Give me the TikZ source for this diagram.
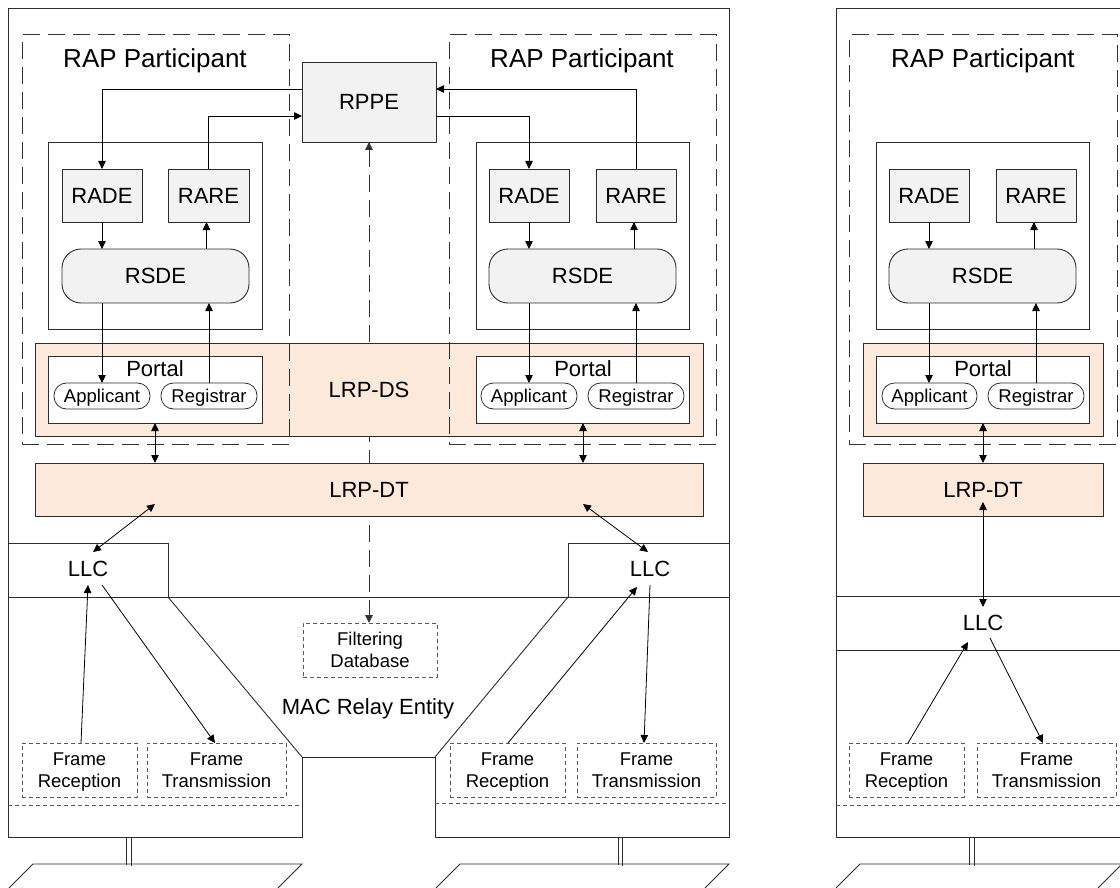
\documentclass[tikz,border=0pt]{standalone}
\usepackage{fontspec}
\setmainfont{Liberation Sans}
\usetikzlibrary{arrows.meta}
\definecolor{peach}{RGB}{252,233,219}
\definecolor{lgray}{RGB}{242,242,242}
\definecolor{ln}{RGB}{45,45,45}
\pgfdeclarelayer{bgfill}
\pgfdeclarelayer{back}
\pgfsetlayers{bgfill,back,main}
\begin{document}
\begin{tikzpicture}[x=1pt,y=-1pt,
  every node/.style={inner sep=0pt, outer sep=0pt},
  sz/.style 2 args={minimum width=#1pt, minimum height=#2pt},
  outl/.style={draw=ln, line width=0.9pt},
  gb/.style={draw=ln, fill=lgray, line width=0.9pt},
  pb/.style={draw=ln, fill=peach, line width=0.9pt},
  wb/.style={draw=ln, fill=white, line width=0.9pt},
  pill/.style={draw=ln, fill=white, line width=0.8pt, rounded corners=12.5pt},
  rsde/.style={draw=ln, fill=lgray, line width=0.9pt, rounded corners=19pt},
  fb/.style={draw=black!65, line width=0.8pt, dash pattern=on 4pt off 3pt, fill=white},
  fdash/.style={draw=black!65, line width=0.8pt, dash pattern=on 4pt off 3pt},
  rap/.style={draw=black!80, line width=1pt, dash pattern=on 17pt off 8pt},
  big/.style={font=\fontsize{26}{30}\selectfont, text height=18.6pt, text depth=0pt},
  mid/.style={font=\fontsize{22}{26}\selectfont, text height=15.8pt, text depth=0pt},
  smone/.style={font=\fontsize{18.5}{22}\selectfont, text height=13.3pt, text depth=0pt},
  smtwo/.style={font=\fontsize{18.5}{22}\selectfont, align=center, text height=35.3pt, text depth=0pt},
  arr/.style={draw=black, line width=0.8pt, -{Triangle[length=8pt,width=7.5pt]}},
  darr/.style={draw=black, line width=0.8pt, {Triangle[length=8pt,width=7.5pt]}-{Triangle[length=8pt,width=7.5pt]}}
]
\useasboundingbox (0,0) rectangle (1120,888);
\begin{pgfonlayer}{bgfill}
\fill[white] (0,0) rectangle (1120,888);
\end{pgfonlayer}

% ---------- bridge outline ----------
\draw[outl] (8,8) -- (729,8) -- (729,837) -- (435,837) -- (435,757) -- (302,757) -- (302,837) -- (8,837) -- cycle;
\draw[outl] (8,543) -- (168,543) -- (168,597);
\draw[outl] (729,543) -- (568,543) -- (568,597);
\draw[outl] (8,597) -- (729,597);
\draw[outl] (168,597) -- (302,757);
\draw[outl] (568,597) -- (435,757);
\draw[fdash] (8,805) -- (302,805);
\draw[fdash] (435,803) -- (729,803);
\draw[outl] (126,837) -- (126,865) (131,837) -- (131,866);
\draw[outl] (9,888) -- (33,864) -- (302,864) -- (278,888);
\draw[outl] (618,837) -- (618,865) (622,837) -- (622,866);
\draw[outl] (436,888) -- (460,864) -- (729,864) -- (705,888);

% ---------- end station outline ----------
\draw[outl] (1130,8) -- (836,8) -- (836,837) -- (1130,837);
\draw[outl] (836,596) -- (1130,596) (836,650) -- (1130,650);
\draw[fdash] (836,805) -- (1130,805);
\draw[outl] (969,837) -- (969,865) (974,837) -- (974,866);
\draw[outl] (836,888) -- (860,864) -- (1122,864) -- (1098,888);

% ---------- RPPE, filtering database ----------
\node[gb, sz={134}{80}, mid] (rppe) at (369,102) {RPPE};
\node[fb, sz={134}{54}, smtwo] (fd) at (370,650) {Filtering\\Database};
\begin{pgfonlayer}{back}
\draw[rap, {Triangle[length=8pt,width=7.5pt]}-{Triangle[length=8pt,width=7.5pt]}] (rppe.south) -- (rppe.south |- fd.north);
\end{pgfonlayer}
\node[mid] (mac) at (368,707) {MAC Relay Entity};

% ---------- LRP boxes ----------
\node[pb, sz={668}{93}, mid] (lrpds) at (369,389.5) {LRP-DS};
\node[pb, sz={668}{53}, mid] (lrpdt) at (369,489.5) {LRP-DT};
\node[pb, sz={240}{93}] (lrpds3) at (983,389.5) {};
\node[pb, sz={240}{53}, mid] (lrpdt3) at (983,489.5) {LRP-DT};

% ---------- RAP participant boxes ----------
\node[rap, sz={267}{409}] (rap1) at (155.5,239.5) {};
\node[rap, sz={267}{409}] (rap2) at (582.5,239.5) {};
\node[rap, sz={268}{409}] (rap3) at (983,239.5) {};
\node[big] (rapt1) at (155,58) {RAP Participant};
\node[big] (rapt2) at (582,58) {RAP Participant};
\node[big] (rapt3) at (983,58) {RAP Participant};

% ---------- participant internals ----------
\node[wb, sz={214}{187}] (in1) at (155,235.5) {};
\node[wb, sz={213}{187}] (in2) at (582.5,235.5) {};
\node[wb, sz={213}{187}] (in3) at (982.5,235.5) {};

\node[gb, sz={80}{53}, mid] (rade1) at (102,195.5) {RADE};
\node[gb, sz={81}{53}, mid] (rare1) at (208.5,195.5) {RARE};
\node[rsde, sz={187}{54}, mid] (rsde1) at (155.5,276) {RSDE};
\node[gb, sz={80}{53}, mid] (rade2) at (529,195.5) {RADE};
\node[gb, sz={80}{53}, mid] (rare2) at (636,195.5) {RARE};
\node[rsde, sz={187}{54}, mid] (rsde2) at (582.5,276) {RSDE};
\node[gb, sz={80}{53}, mid] (rade3) at (929,195.5) {RADE};
\node[gb, sz={80}{53}, mid] (rare3) at (1036,195.5) {RARE};
\node[rsde, sz={187}{54}, mid] (rsde3) at (982.5,276) {RSDE};

% portals
\node[wb, sz={214}{67}] (por1) at (155,389.5) {};
\node[wb, sz={213}{67}] (por2) at (582.5,389.5) {};
\node[wb, sz={213}{67}] (por3) at (982.5,389.5) {};
\node[mid] (port1) at (155,369) {Portal};
\node[mid] (port2) at (583,369) {Portal};
\node[mid] (port3) at (983,369) {Portal};
\node[pill, sz={96}{26}, smone] (app1) at (102,396) {Applicant};
\node[pill, sz={96}{26}, smone] (reg1) at (209,396) {Registrar};
\node[pill, sz={96}{26}, smone] (app2) at (529,396) {Applicant};
\node[pill, sz={96}{26}, smone] (reg2) at (636,396) {Registrar};
\node[pill, sz={95}{26}, smone] (app3) at (929.5,396) {Applicant};
\node[pill, sz={96}{26}, smone] (reg3) at (1036,396) {Registrar};

% LLC labels and frame boxes
\node[mid] (llc1) at (88,569) {LLC};
\node[mid] (llc2) at (650,569) {LLC};
\node[mid] (llc3) at (983,623) {LLC};
\node[fb, sz={115}{54}, smtwo] (fr1) at (79.5,770) {Frame\\Reception};
\node[fb, sz={139}{54}, smtwo] (ft1) at (216.5,770) {Frame\\Transmission};
\node[fb, sz={115}{54}, smtwo] (fr2) at (507.5,770) {Frame\\Reception};
\node[fb, sz={139}{54}, smtwo] (ft2) at (646.5,770) {Frame\\Transmission};
\node[fb, sz={115}{54}, smtwo] (fr3) at (906.5,770) {Frame\\Reception};
\node[fb, sz={139}{54}, smtwo] (ft3) at (1046.5,770) {Frame\\Transmission};

% ---------- connectors ----------
\draw[arr] ([yshift=13pt]rppe.west) -| (rade1.north);
\draw[arr] (rare1.north) |- ([yshift=-14pt]rppe.west);
\draw[arr] (rare2.north) |- ([yshift=13pt]rppe.east);
\draw[arr] ([yshift=-14pt]rppe.east) -| (rade2.north);

\foreach \i in {1,2,3}{
  \draw[arr] (rade\i.south) -- (rade\i.south |- rsde\i.north);
  \draw[arr] ([xshift=-2pt]rare\i.south |- rsde\i.north) -- ([xshift=-2pt]rare\i.south);
  \draw[arr] (rade\i.south |- rsde\i.south) -- (rade\i.south |- app\i.north);
  \draw[arr] (reg\i.north) -- (reg\i.north |- rsde\i.south);
}
\draw[darr] (por1.south) -- (por1.south |- lrpdt.north);
\draw[darr] ([xshift=0.5pt]por2.south) -- ([xshift=0.5pt]por2.south |- lrpdt.north);
\draw[darr] ([xshift=0.5pt]por3.south) -- ([xshift=0.5pt]por3.south |- lrpdt3.north);

\coordinate (dt1) at (155,504);
\coordinate (lc1t) at (93,552);
\coordinate (dt2) at (583,504);
\coordinate (lc2t) at (648,552);
\coordinate (dt3) at (983,502);
\coordinate (lc3t) at (983,607);
\coordinate (lc1b) at (88,585);
\coordinate (lc1c) at (102,585);
\coordinate (lc2b) at (637,587);
\coordinate (lc2c) at (650,585);
\coordinate (lc3b) at (968,642);
\coordinate (lc3c) at (990,638);

\draw[darr] (dt1) -- (lc1t);
\draw[darr] (dt2) -- (lc2t);
\draw[darr] (dt3) -- (lc3t);

\draw[arr] ([xshift=1.5pt]fr1.north) -- (lc1b);
\draw[arr] (lc1c) -- ([xshift=-1.5pt]ft1.north);
\draw[arr] ([xshift=0.5pt]fr2.north) -- (lc2b);
\draw[arr] (lc2c) -- ([xshift=-2.5pt]ft2.north);
\draw[arr] ([xshift=1.5pt]fr3.north) -- (lc3b);
\draw[arr] (lc3c) -- ([xshift=-3.5pt]ft3.north);
\end{tikzpicture}
\end{document}
